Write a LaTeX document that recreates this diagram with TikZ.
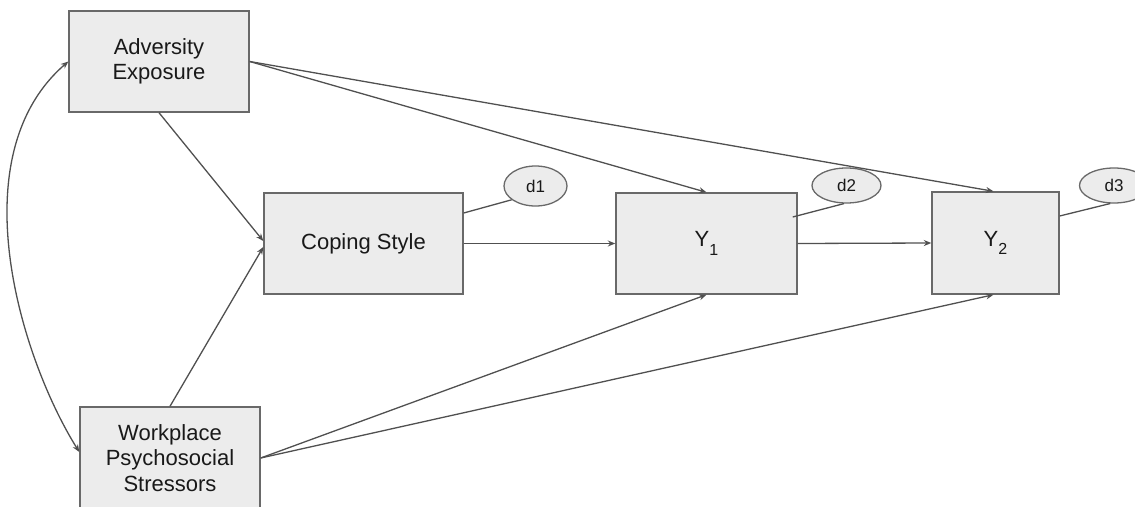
\documentclass[tikz,border=0pt]{standalone}
\usepackage{fontspec}
\setmainfont{Liberation Sans}
\usetikzlibrary{arrows.meta,shapes.geometric}
\definecolor{boxfill}{RGB}{236,236,236}
\definecolor{boxline}{RGB}{105,105,105}
\definecolor{linkcol}{RGB}{80,80,80}
\definecolor{inkcol}{RGB}{25,25,25}
\newcommand{\subidx}[1]{\raisebox{-0.38em}{\fontsize{16}{16}\selectfont #1}}
\begin{document}
\begin{tikzpicture}[x=1pt,y=-1pt,
  varbox/.style={draw=boxline,line width=1.4pt,fill=boxfill,rectangle,text=inkcol,
    align=center,inner sep=0pt,font=\fontsize{22}{25.5}\selectfont},
  errvar/.style={draw=boxline,line width=1.3pt,fill=boxfill,ellipse,text=inkcol,
    inner sep=0pt,font=\fontsize{17}{19}\selectfont},
  path/.style={draw=linkcol,line width=1.3pt,-{Stealth[length=7.5pt,width=6pt]}},
  resid/.style={draw=linkcol,line width=1.3pt}]
\useasboundingbox (0,0) rectangle (1135,506);
\clip (0,0) rectangle (1135,506);
% observed variables
\node[varbox,minimum width=180pt,minimum height=101pt] (adv) at (159,61.5) {Adversity\\Exposure};
\node[varbox,minimum width=180pt,minimum height=102pt] (wp) at (170,458) {Workplace\\Psychosocial\\Stressors};
\node[varbox,minimum width=199pt,minimum height=101pt] (cope) at (363.5,243.5) {Coping Style};
\node[varbox,minimum width=181pt,minimum height=101pt] (y1) at (706.5,243.5) {Y\subidx{1}};
\node[varbox,minimum width=127pt,minimum height=102pt] (y2) at (995.5,243) {Y\subidx{2}};
% disturbance terms
\node[errvar,minimum width=63pt,minimum height=40pt] (d1) at (535.5,186) {d1};
\node[errvar,minimum width=69pt,minimum height=35pt] (d2) at (846.5,185.5) {d2};
\node[errvar,minimum width=69pt,minimum height=35pt] (d3) at (1114,185.5) {d3};
% directed paths
\draw[path] (adv.east) -- (y1.north);
\draw[path] (adv.east) -- ([xshift=-2pt]y2.north);
\draw[path] (adv.south) -- ([yshift=2.5pt]cope.west);
\draw[path] (wp.north) -- ([yshift=-3.5pt]cope.west);
\draw[path] (cope.east) -- (y1.west);
\draw[path] (y1.east) -- (y2.west);
\draw[path] (wp.east) -- (y1.south);
\draw[path] (wp.east) -- ([xshift=-2pt]y2.south);
% covariance between the exogenous variables
\draw[draw=linkcol,line width=1.3pt,{Stealth[length=7.5pt,width=6pt]}-{Stealth[length=7.5pt,width=6pt]}]
  ([yshift=6pt]wp.west) .. controls (20,357) and (-41,156) .. (adv.west);
% residual links
\draw[resid] ([yshift=30.5pt]cope.east) -- (d1.210);
\draw[resid] ([xshift=-5pt,yshift=26.5pt]y1.east) -- (d2.262);
\draw[resid] ([yshift=27pt]y2.east) -- (d3.258);
\end{tikzpicture}
\end{document}
